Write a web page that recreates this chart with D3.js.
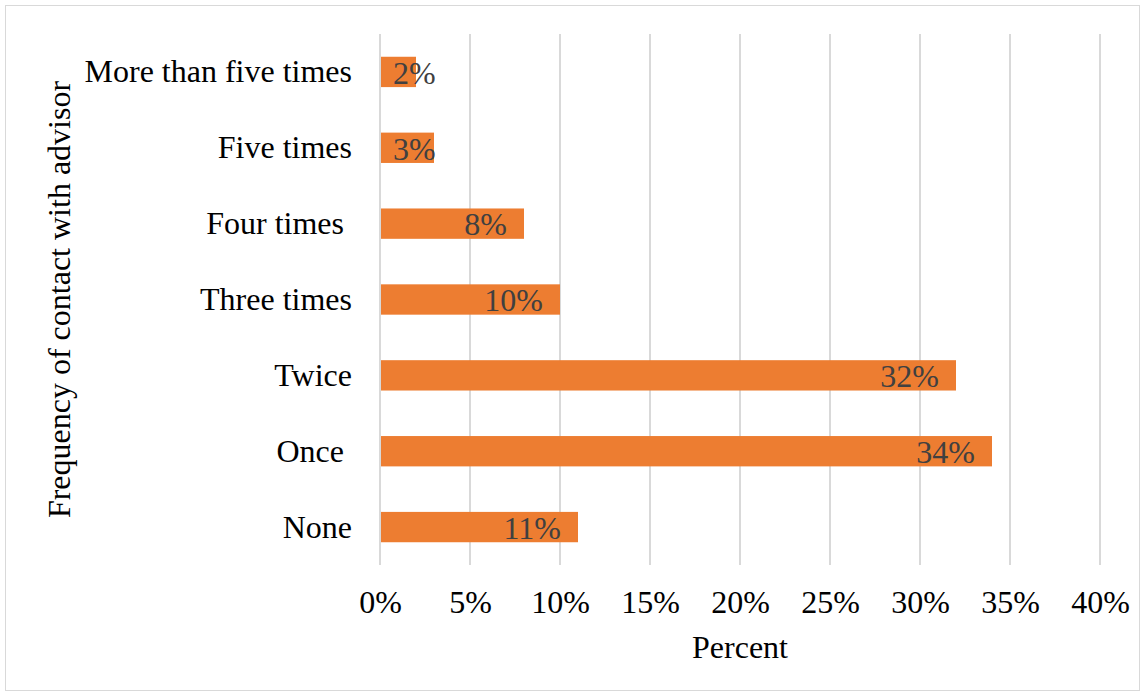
<!DOCTYPE html>
<html>
<head>
<meta charset="utf-8">
<script src="https://cdn.jsdelivr.net/npm/d3@7"></script>
<style>
  html, body { margin: 0; padding: 0; background: #fff; }
  svg text { font-family: "Liberation Serif", "Times New Roman", serif; }
</style>
</head>
<body>
<svg id="chart" width="1145" height="696"></svg>
<script>
// Frequency of contact with advisor (share of respondents)
const categories = ["More than five times", "Five times", "Four times ", "Three times", "Twice", "Once ", "None"];
const percents = [2, 3, 8, 10, 32, 34, 11];
const tickValues = [0, 5, 10, 15, 20, 25, 30, 35, 40];

const W = 1145, H = 696;
const FS = 32;
const margin = { left: 380, right: 45, top: 34, bottom: 131 };
const svg = d3.select("#chart");

// outer frame
svg.append("rect")
  .attr("x", 5.5).attr("y", 5.5)
  .attr("width", W - 11).attr("height", H - 11)
  .attr("fill", "#fff").attr("stroke", "#d9d9d9").attr("stroke-width", 1);

const x = d3.scaleLinear().domain([0, 40]).range([margin.left, W - margin.right]);
const y = d3.scaleBand().domain(categories)
  .range([margin.top, H - margin.bottom])
  .paddingInner(0.6).paddingOuter(0.3);

// vertical gridlines
svg.append("g").selectAll("line").data(tickValues).join("line")
  .attr("x1", d => x(d)).attr("x2", d => x(d))
  .attr("y1", margin.top).attr("y2", H - margin.bottom)
  .attr("stroke", "#d9d9d9").attr("stroke-width", 2);

// bars
svg.append("g").selectAll("rect").data(percents).join("rect")
  .attr("x", x(0) + 1)
  .attr("y", (d, i) => y(categories[i]))
  .attr("width", d => x(d) - x(0) - 1)
  .attr("height", y.bandwidth())
  .attr("fill", "#ed7d31");

// x axis tick labels
const xAxis = d3.axisBottom(x).tickValues(tickValues).tickFormat(d => d + "%").tickSize(0).tickPadding(0);
const gx = svg.append("g").attr("transform", `translate(0,${H - margin.bottom})`).call(xAxis);
gx.select(".domain").remove();
gx.selectAll("text")
  .attr("y", 48).attr("dy", 0)
  .attr("font-size", FS).attr("fill", "#000")
  .style("font-family", '"Liberation Serif", "Times New Roman", serif');

// y axis category labels
const yAxis = d3.axisLeft(y).tickSize(0).tickPadding(28);
const gy = svg.append("g").attr("transform", `translate(${x(0)},0)`).call(yAxis);
gy.select(".domain").remove();
gy.selectAll("text")
  .attr("dy", "0.33em")
  .attr("font-size", FS).attr("fill", "#000")
  .attr("xml:space", "preserve")
  .style("white-space", "pre")
  .style("font-family", '"Liberation Serif", "Times New Roman", serif');

// value labels, inside the bar end where they fit
const labels = svg.append("g").selectAll("text").data(percents).join("text")
  .attr("y", (d, i) => y(categories[i]) + y.bandwidth() / 2)
  .attr("dy", "0.37em")
  .attr("font-size", FS).attr("fill", "#404040")
  .text(d => d + "%");
labels.each(function (d) {
  const w = this.getComputedTextLength();
  const start = Math.max(x(d) - 17 - w, x(0) + 13);
  d3.select(this).attr("x", start);
});

// axis titles
svg.append("text")
  .attr("x", (x(0) + x(40)) / 2).attr("y", 658)
  .attr("text-anchor", "middle").attr("font-size", FS).attr("fill", "#000")
  .text("Percent");

svg.append("text")
  .attr("transform", `translate(70,${(margin.top + H - margin.bottom) / 2}) rotate(-90)`)
  .attr("text-anchor", "middle").attr("font-size", FS).attr("fill", "#000")
  .text("Frequency of contact with advisor");
</script>
</body>
</html>
